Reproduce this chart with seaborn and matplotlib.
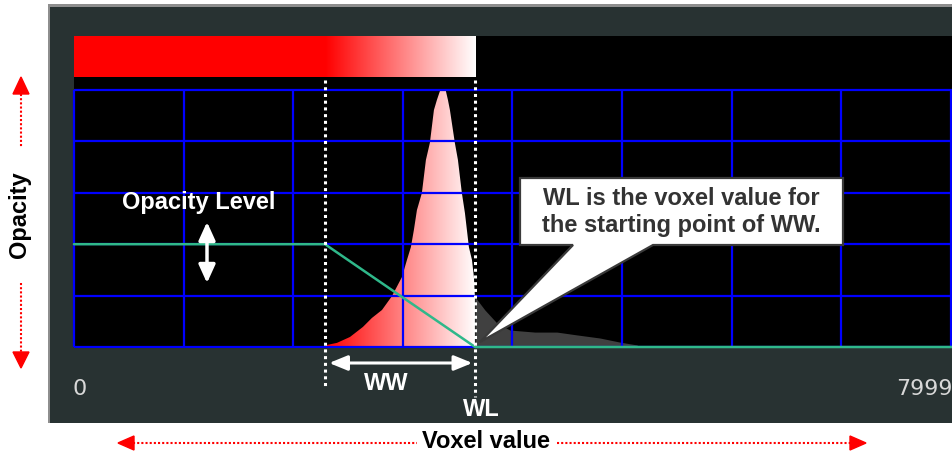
import numpy as np
import matplotlib
matplotlib.use("Agg")
import matplotlib.pyplot as plt
import seaborn as sns
from matplotlib.patches import Polygon, Rectangle, FancyArrowPatch
from matplotlib.lines import Line2D
from matplotlib.transforms import blended_transform_factory

# ---------------- data ----------------
ww_start = 2290          # start of the window (voxel value)
wl = 3660                # window level (voxel value)
opacity_level = 0.4
opacity_x = [0, 2290, 3660, 8011]
opacity_y = [0.4, 0.4, 0.0, 0.0]

hist_voxel = [2290, 2308, 2399, 2518, 2636, 2718, 2810, 2901, 2992, 3038, 3074,
              3101, 3129, 3174, 3211, 3247, 3284, 3311, 3339, 3393, 3412, 3430,
              3475, 3503, 3539, 3567, 3585, 3603, 3631, 3649, 3658, 3749, 3859,
              3977, 4205, 4406, 4589, 4798, 4981, 5136, 5163]
hist_count = [0.0, 0.008, 0.016, 0.039, 0.078, 0.113, 0.144, 0.198, 0.272, 0.339,
              0.389, 0.455, 0.533, 0.599, 0.728, 0.794, 0.922, 0.961, 0.996, 0.996,
              0.961, 0.922, 0.794, 0.728, 0.599, 0.521, 0.455, 0.389, 0.339, 0.272,
              0.195, 0.144, 0.093, 0.066, 0.058, 0.058, 0.047, 0.035, 0.019, 0.008,
              0.0]

grid_x = [0, 1000, 2000, 3000, 4000, 5000, 6000, 7000, 8000]
grid_y = [0.0, 0.2, 0.4, 0.6, 0.8, 1.0]
tick_labels = ["0", "7999"]

# ---------------- style ----------------
sns.set_theme(style="white")
plt.rcParams["font.family"] = ["Liberation Sans", "DejaVu Sans"]

W, H = 952, 457
fig = plt.figure(figsize=(W / 100, H / 100), dpi=100)
fig.patch.set_facecolor("white")

# background panel
bg = fig.add_axes([0, 0, 1, 1], zorder=0)
bg.set_xlim(0, W)
bg.set_ylim(H, 0)
bg.axis("off")
bg.add_patch(Rectangle((48, 4), W - 43, 419, facecolor="#8e8e8e", edgecolor="none"))
bg.add_patch(Rectangle((50, 7), W - 45, 416, facecolor="#283232", edgecolor="none"))

# main plot axes
ax = fig.add_axes([74 / W, (H - 348) / H, (W - 74) / W, (348 - 36) / H], zorder=1)
ax.set_facecolor("black")
for s in ax.spines.values():
    s.set_visible(False)

red = np.array([1.0, 0.0, 0.0])
white = np.array([1.0, 1.0, 1.0])

# colour bar (transfer colour)
cb_x = np.linspace(0, wl, 800)
t = np.clip((cb_x - ww_start) / (wl - ww_start), 0, 1)[None, :, None]
cb_img = red * (1 - t) + white * t
ax.imshow(cb_img, extent=[0, wl, 1.051, 1.210], aspect="auto",
          interpolation="bilinear", zorder=1)

# histogram with gradient inside window
hx = np.array(hist_voxel, dtype=float)
hy = np.array(hist_count, dtype=float)
pink = hx <= wl
px, py = hx[pink], hy[pink]
verts = list(zip(px, py)) + [(px[-1], 0), (px[0], 0)]
clip_poly = Polygon(verts, closed=True, facecolor="none", edgecolor="none")
ax.add_patch(clip_poly)
g_x = np.linspace(ww_start, wl, 600)
tg = ((g_x - ww_start) / (wl - ww_start))[None, :, None]
g_img = red * (1 - tg) + white * tg
im = ax.imshow(g_img, extent=[ww_start, wl, 0, 1.0], aspect="auto",
               interpolation="bilinear", zorder=1)
im.set_clip_path(clip_poly)

gray = hx >= px[-1]
ax.fill_between(hx[gray], hy[gray], 0, color="#404040", lw=0, zorder=1)

# grid
ax.vlines(grid_x, 0, 1.0, colors="#0000ff", lw=1.6, zorder=2, clip_on=False)
ax.hlines(grid_y, 0, 8011, colors="#0000ff", lw=1.6, zorder=2)

# opacity transfer curve
sns.lineplot(x=opacity_x, y=opacity_y, ax=ax, color="#2fb88a", linewidth=1.8,
             zorder=3, clip_on=False)

ax.set_xlim(0, 8011)
ax.set_ylim(-1 / 257, 311 / 257)
ax.set_xticks([])
ax.set_yticks([])
ax.set_xlabel("")
ax.set_ylabel("")

# ---------------- overlay annotations (pixel coords) ----------------
ov = fig.add_axes([0, 0, 1, 1], zorder=3)
ov.set_xlim(0, W)
ov.set_ylim(H, 0)
ov.axis("off")
ov.patch.set_alpha(0)
blend = blended_transform_factory(ax.transData, ov.transData)

# dotted window lines
ov.add_line(Line2D([ww_start, ww_start], [80, 387], transform=blend, color="white",
                   lw=2.2, ls=(0, (1, 1.2))))
ov.add_line(Line2D([wl, wl], [80, 397], transform=blend, color="white",
                   lw=2.2, ls=(0, (1, 1.2))))

# WW arrow
ov.add_patch(FancyArrowPatch((ww_start, 363), (wl, 363), transform=blend,
                             arrowstyle="<|-|>,head_length=11,head_width=4.5",
                             mutation_scale=1, color="white", lw=2.2,
                             shrinkA=3, shrinkB=2))
ov.text(386, 384, "WW", color="white", fontsize=17, fontweight="bold",
        ha="center", va="center")
ov.text(481, 409, "WL", color="white", fontsize=17, fontweight="bold",
        ha="center", va="center")

# opacity level
ov.text(199, 202, "Opacity Level", color="white", fontsize=17, fontweight="bold",
        ha="center", va="center")
ov.add_patch(FancyArrowPatch((207, 222), (207, 283),
                             arrowstyle="<|-|>,head_length=11,head_width=5",
                             mutation_scale=1, color="white", lw=2.5,
                             shrinkA=0, shrinkB=0))

# callout
callout = [(520, 178), (843, 178), (843, 245), (653, 245), (480, 342),
           (573, 245), (520, 245)]
ov.add_patch(Polygon(callout, closed=True, facecolor="white",
                     edgecolor="#3a3a3a", lw=1.6, zorder=4))
ov.text(681, 212, "WL is the voxel value for\nthe starting point of WW.",
        color="#333333", fontsize=17, fontweight="bold", ha="center",
        va="center", linespacing=1.2, zorder=5)

# axis end labels
ov.text(80, 389, tick_labels[0], color="#d8d8d8", fontsize=16,
        family="DejaVu Sans", ha="center", va="center")
ov.text(896, 389, tick_labels[1], color="#d8d8d8", fontsize=16,
        family="DejaVu Sans", ha="left", va="center")

# outer axis titles with red dotted arrows
ov.text(20, 215, "Opacity", color="black", fontsize=17, fontweight="bold",
        rotation=90, ha="center", va="center")
ov.text(486, 442, "Voxel value", color="black", fontsize=17, fontweight="bold",
        ha="center", va="center")

rc = "#ff0000"
dot = (0, (1, 1))
ov.add_line(Line2D([21, 21], [94, 147], color=rc, lw=1.5, ls=dot))
ov.add_patch(Polygon([(21, 77), (13, 94), (29, 94)], closed=True, color=rc))
ov.add_line(Line2D([21, 21], [283, 352], color=rc, lw=1.5, ls=dot))
ov.add_patch(Polygon([(21, 368), (13, 352), (29, 352)], closed=True, color=rc))
ov.add_line(Line2D([133, 417], [443, 443], color=rc, lw=1.5, ls=dot))
ov.add_patch(Polygon([(118, 443), (134, 436), (134, 450)], closed=True, color=rc))
ov.add_line(Line2D([557, 850], [443, 443], color=rc, lw=1.5, ls=dot))
ov.add_patch(Polygon([(866, 443), (850, 436), (850, 450)], closed=True, color=rc))

fig.savefig("out.png", dpi=100, facecolor="white")
